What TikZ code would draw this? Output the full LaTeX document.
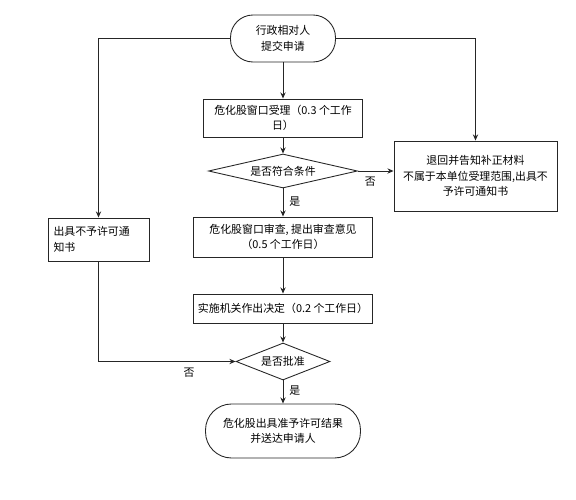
\documentclass[tikz,border=0pt]{standalone}
\usepackage{fontspec}
\setmainfont{Noto Sans CJK SC}
\usetikzlibrary{shapes.geometric,arrows.meta}
\tikzset{
  box/.style={draw, rectangle, inner sep=1pt, align=center},
  term/.style={draw, rectangle, rounded corners=0.45cm, inner sep=1pt, align=center},
  test/.style={draw, diamond, inner sep=0pt, aspect=4},
  flow/.style={-{Stealth[length=3.5pt,width=3pt]}},
  every node/.style={font=\fontsize{6.2}{8.8}\selectfont},
}
\begin{document}
\begin{tikzpicture}[x=0.02cm, y=-0.02cm, line width=0.5pt, draw=black!85]
  \useasboundingbox (0,0) rectangle (576,500);
  \draw
    (283,38.5) node[term, minimum width=2.1cm, minimum height=0.94cm] (start){行政相对人\\提交申请}
    (283,118) node[box, minimum width=3.18cm, minimum height=0.76cm] (accept){危化股窗口受理（0.3 个工作\\日）}
    (283,171) node[test, minimum width=2.98cm, minimum height=0.68cm] (cond){是否符合条件}
    (283,237) node[box, minimum width=3.58cm, minimum height=0.8cm] (review){危化股窗口审查, 提出审查意见\\（0.5 个工作日）}
    (283,308.5) node[box, minimum width=3.58cm, minimum height=0.58cm] (decide){实施机关作出决定（0.2 个工作日）}
    (283,361.5) node[test, minimum width=1.88cm, minimum height=0.74cm] (approve){是否批准}
    (283,431) node[term, rounded corners=0.52cm, minimum width=3.1cm, minimum height=1.08cm] (result){危化股出具准予许可结果\\并送达申请人}
    (475.5,176) node[box, minimum width=3.26cm, minimum height=1.4cm] (refund){退回并告知补正材料\\不属于本单位受理范围,出具不\\予许可通知书}
    (98.5,239.5) node[box, align=left, text width=1.8cm, minimum width=2.02cm, minimum height=0.86cm] (deny){出具不予许可通\\知书};
  \begin{scope}[flow]
    \draw (start) to (accept);
    \draw (accept) to (cond);
    \draw (cond) to node[right, pos=0.45]{是} (review);
    \draw (review) to (decide);
    \draw (decide) to (approve);
    \draw (approve) to node[right, pos=0.45]{是} (result);
    \draw (start.west) -| (deny.north);
    \draw (start.east) -| (refund.north);
    \draw (cond.east) -- node[below, pos=0.35]{否} (cond.east -| refund.west);
    \draw (deny.south) |- node[below, pos=0.83]{否} (approve.west);
  \end{scope}
\end{tikzpicture}
\end{document}
